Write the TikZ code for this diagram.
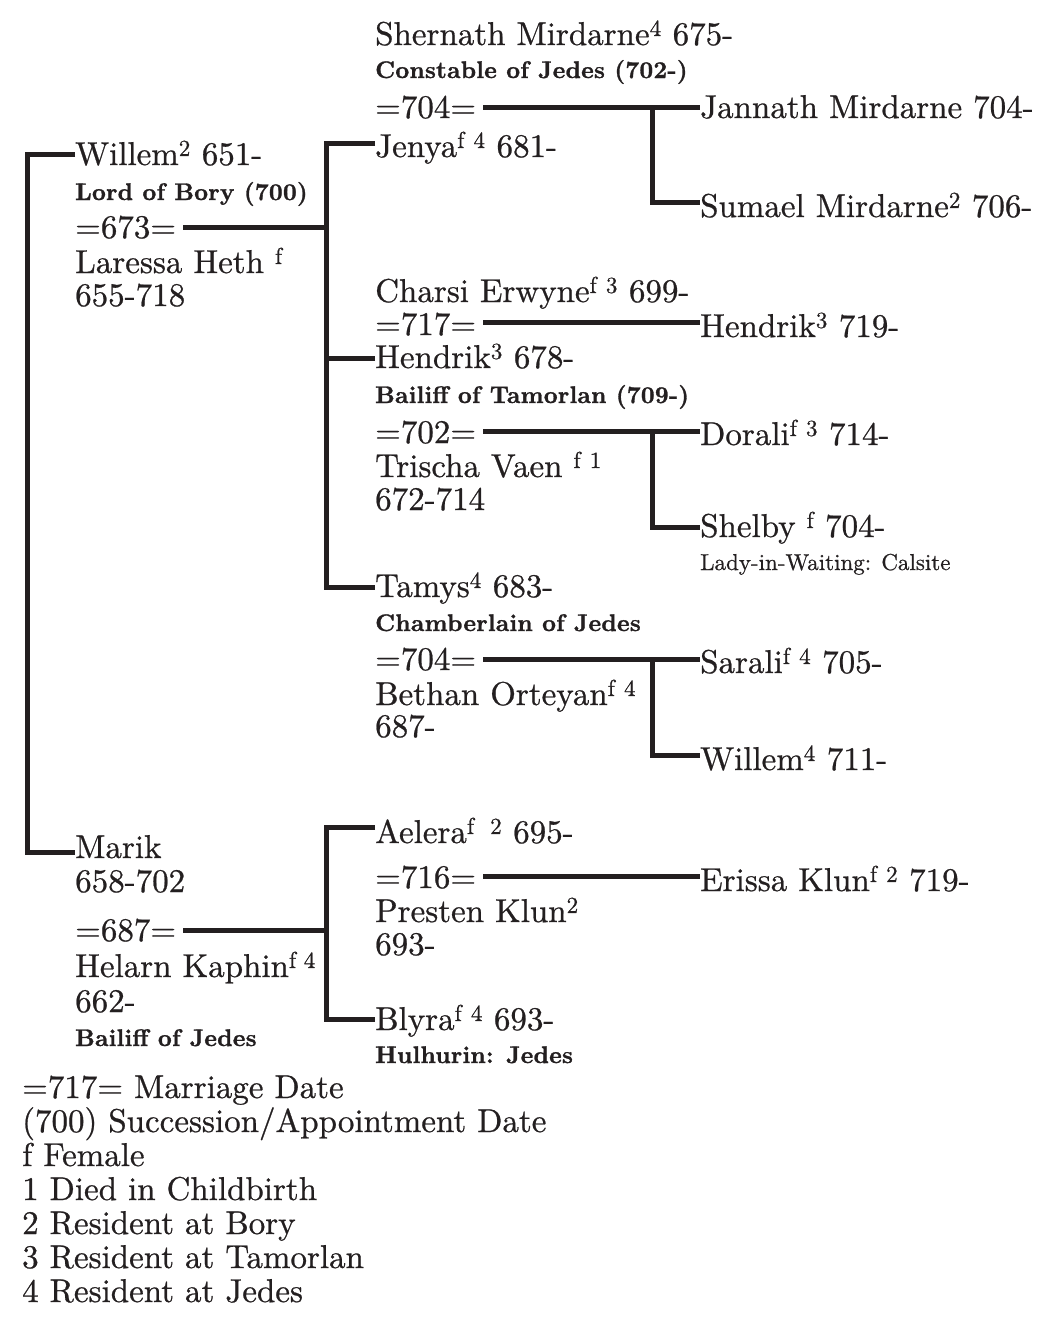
\documentclass[tikz,border=0pt]{standalone}
\usepackage{fontspec}
\setmainfont{lmroman10-regular.otf}[BoldFont=lmroman10-bold.otf, FakeBold=0.7]
\newfontfamily\ttlfont{lmroman10-bold.otf}[FakeBold=1.2, LetterSpace=1]
\definecolor{ink}{HTML}{231F20}
\newcommand{\sups}[1]{\textsuperscript{#1}}
\tikzset{
  txt/.style={anchor=base west, inner sep=0pt, text=ink, font=\fontsize{33}{34}\selectfont},
  ttl/.style={anchor=base west, inner sep=0pt, text=ink, font=\ttlfont\fontsize{24}{26}\selectfont},
  note/.style={anchor=base west, inner sep=0pt, text=ink, font=\fontsize{23}{25}\selectfont},
  ln/.style={line width=5pt, draw=ink, line join=miter}
}
\begin{document}
\begin{tikzpicture}[x=1pt,y=-1pt]
\useasboundingbox (0,0) rectangle (1052,1318);
% ---- column A
\node[txt] (wil)  at (75,165) {Willem\sups{2} 651-};
\node[ttl] (wilT) at (75,200) {Lord of Bory (700)};
\node[txt] (m673) at (75,238) {=673=};
\node[txt] (lar)  at (75,273) {Laressa Heth \sups{f}};
\node[txt] (larD) at (75,306) {655-718};
\node[txt] (mar)  at (75,858) {Marik};
\node[txt] (marD) at (75,892) {658-702};
\node[txt] (m687) at (75,941) {=687=};
\node[txt] (hel)  at (75,977) {Helarn Kaphin\sups{f 4}};
\node[txt] (helD) at (75,1012) {662-};
\node[ttl] (helT) at (75,1046) {Bailiff of Jedes};
% ---- column B
\node[txt] (she)  at (375,45) {Shernath Mirdarne\sups{4} 675-};
\node[ttl] (sheT) at (375,78) {Constable of Jedes (702-)};
\node[txt] (m704a) at (375,118) {=704=};
\node[txt] (jen)  at (375,157) {Jenya\sups{f\hspace{0.4em}4} 681-};
\node[txt] (cha)  at (375,302) {Charsi Erwyne\sups{f\hspace{0.4em}3} 699-};
\node[txt] (m717) at (375,335) {=717=};
\node[txt] (hen)  at (375,368) {Hendrik\sups{3} 678-};
\node[ttl] (henT) at (375,403) {Bailiff of Tamorlan (709-)};
\node[txt] (m702) at (375,443) {=702=};
\node[txt] (tri)  at (375,477) {Trischa Vaen \sups{f\hspace{0.4em}1}};
\node[txt] (triD) at (375,510) {672-714};
\node[txt] (tam)  at (375,597) {Tamys\sups{4} 683-};
\node[ttl] (tamT) at (375,631) {Chamberlain of Jedes};
\node[txt] (m704b) at (375,670) {=704=};
\node[txt] (bet)  at (375,705) {Bethan Orteyan\sups{f\hspace{0.4em}4}};
\node[txt] (betD) at (375,737) {687-};
\node[txt] (ael)  at (375,843) {Aelera\sups{f\hspace{0.7em}2} 695-};
\node[txt] (m716) at (375,888) {=716=};
\node[txt] (pre)  at (375,922) {Presten Klun\sups{2}};
\node[txt] (preD) at (375,955) {693-};
\node[txt] (bly)  at (375,1030) {Blyra\sups{f\hspace{0.4em}4} 693-};
\node[ttl] (blyT) at (375,1063) {Hulhurin: Jedes};
% ---- column C
\node[txt] (jan)  at (700,118) {Jannath Mirdarne 704-};
\node[txt] (sum)  at (700,217) {Sumael Mirdarne\sups{2} 706-};
\node[txt] (hen2) at (700,337) {Hendrik\sups{3} 719-};
\node[txt] (dor)  at (700,445) {Dorali\sups{f\hspace{0.4em}3} 714-};
\node[txt] (shl)  at (700,537) {Shelby \sups{f} 704-};
\node[note] (shlT) at (700,570) {Lady-in-Waiting: Calsite};
\node[txt] (sar)  at (700,673) {Sarali\sups{f\hspace{0.4em}4} 705-};
\node[txt] (wil2) at (700,770) {Willem\sups{4} 711-};
\node[txt] (eri)  at (700,891) {Erissa Klun\sups{f\hspace{0.4em}2} 719-};
% ---- legend
\node[txt] (lg1) at (22,1098) {=717= Marriage Date};
\node[txt] (lg2) at (22,1132) {(700) Succession/Appointment Date};
\node[txt] (lg3) at (22,1166) {f Female};
\node[txt] (lg4) at (22,1200) {1 Died in Childbirth};
\node[txt] (lg5) at (22,1234) {2 Resident at Bory};
\node[txt] (lg6) at (22,1268) {3 Resident at Tamorlan};
\node[txt] (lg7) at (22,1302) {4 Resident at Jedes};
% ---- connector points
\coordinate (pWil) at (75,154);
\coordinate (pMar) at (75,852);
\coordinate (tTop) at (27,154);
\coordinate (tBot) at (27,852);
\coordinate (m1s) at (183,227); \coordinate (m1j) at (326,227);
\coordinate (pJen) at (375,143); \coordinate (pHen) at (375,358); \coordinate (pTam) at (375,587);
\coordinate (m2s) at (183,930); \coordinate (m2j) at (326,930);
\coordinate (pAel) at (375,827); \coordinate (pBly) at (375,1019);
\coordinate (m3s) at (483,107); \coordinate (m3j) at (652,107);
\coordinate (pJan) at (700,107); \coordinate (pSum) at (700,202);
\coordinate (m4s) at (483,322); \coordinate (pHen2) at (700,322);
\coordinate (m5s) at (483,431); \coordinate (m5j) at (652,431);
\coordinate (pDor) at (700,431); \coordinate (pShe) at (700,527);
\coordinate (m6s) at (483,659); \coordinate (m6j) at (652,659);
\coordinate (pSar) at (700,659); \coordinate (pWil2) at (700,755);
\coordinate (m7s) at (483,876); \coordinate (pEri) at (700,876);
% ---- connectors
\draw[ln] (pWil) -- (tTop) -- (tBot) -- (pMar);
\draw[ln] (m1s) -- (m1j);
\draw[ln] (pJen) -| (m1j) |- (pTam);
\draw[ln] (m1j |- pHen) -- (pHen);
\draw[ln] (m2s) -- (m2j);
\draw[ln] (pAel) -| (m2j) |- (pBly);
\draw[ln] (m3s) -- (pJan);
\draw[ln] (m3j) |- (pSum);
\draw[ln] (m4s) -- (pHen2);
\draw[ln] (m5s) -- (pDor);
\draw[ln] (m5j) |- (pShe);
\draw[ln] (m6s) -- (pSar);
\draw[ln] (m6j) |- (pWil2);
\draw[ln] (m7s) -- (pEri);
\end{tikzpicture}
\end{document}
